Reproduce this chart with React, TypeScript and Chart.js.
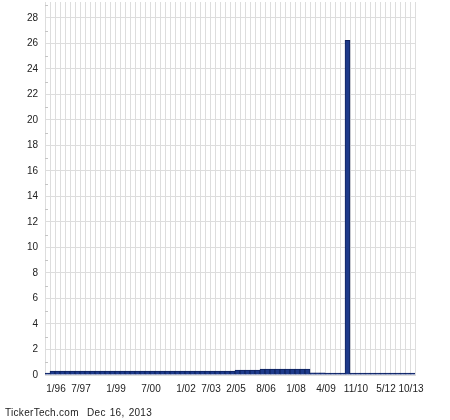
import React, { useEffect, useRef } from "react";
import { Chart, registerables } from "chart.js";

Chart.register(...registerables);

// Dividend dates (only the labelled ones are shown on the axis)
const categories: string[] = [
  "", "", "1/96", "", "", "", "", "7/97", "", "",
  "", "", "", "", "1/99", "", "", "", "", "",
  "", "7/00", "", "", "", "", "", "", "1/02", "",
  "", "", "", "7/03", "", "", "", "", "2/05", "",
  "", "", "", "", "8/06", "", "", "", "", "",
  "1/08", "", "", "", "", "", "4/09", "", "", "",
  "", "", "11/10", "", "", "", "", "", "5/12", "",
  "", "", "", "10/13",
];

// Dividend amounts per payment
const dividends: number[] = [
  0.05, 0.3, 0.3, 0.3, 0.3, 0.3, 0.3, 0.3, 0.3, 0.3,
  0.3, 0.3, 0.3, 0.3, 0.3, 0.3, 0.3, 0.3, 0.3, 0.3,
  0.3, 0.3, 0.3, 0.3, 0.3, 0.3, 0.3, 0.3, 0.3, 0.3,
  0.3, 0.3, 0.3, 0.3, 0.3, 0.3, 0.3, 0.3, 0.38, 0.38,
  0.38, 0.38, 0.38, 0.46, 0.46, 0.46, 0.46, 0.46, 0.46, 0.46,
  0.46, 0.46, 0.46, 0.17, 0.17, 0.17, 0.05, 0.05, 0.05, 0.05,
  26.25, 0.06, 0.06, 0.06, 0.06, 0.06, 0.06, 0.06, 0.06, 0.12,
  0.12, 0.12, 0.12, 0.12,
];

const yMin = 0;
const yMax = 29.25;
const yStep = 2;
const minorTickValues: number[] = [1, 3, 5, 7, 9, 11, 13, 15, 17, 19, 21, 23, 25, 27, 29];

const footerText = "TickerTech.com  Dec 16, 2013";

const GRID = "#dddddd";
const FONT = "Liberation Sans, Arial, sans-serif";

const minorTicksPlugin = {
  id: "minorTicks",
  afterDatasetsDraw(chart: any) {
    const y = chart.scales.y;
    const ctx = chart.ctx;
    const left = chart.chartArea.left;
    ctx.save();
    ctx.strokeStyle = "#c4c4c4";
    ctx.lineWidth = 1;
    for (const v of minorTickValues) {
      const py = Math.round(y.getPixelForValue(v)) + 0.5;
      ctx.beginPath();
      ctx.moveTo(left, py);
      ctx.lineTo(left + 3, py);
      ctx.stroke();
    }
    ctx.restore();
  },
};

export default function App() {
  const ref = useRef<HTMLCanvasElement | null>(null);

  useEffect(() => {
    if (!ref.current) return;
    const chart = new Chart(ref.current, {
      type: "bar",
      data: {
        labels: categories,
        datasets: [
          {
            data: dividends,
            backgroundColor: "#1e3a8a",
            borderColor: "#10235f",
            borderWidth: 1,
            barPercentage: 1,
            categoryPercentage: 1,
            minBarLength: 2,
          },
        ],
      },
      options: {
        animation: false,
        responsive: false,
        maintainAspectRatio: false,
        layout: { padding: { left: 0, right: 35, top: 2, bottom: 25 } },
        plugins: {
          legend: { display: false },
          tooltip: { enabled: false },
        },
        scales: {
          x: {
            grid: { color: GRID, lineWidth: 1, drawTicks: false, offset: true },
            border: { color: GRID },
            ticks: {
              autoSkip: false,
              maxRotation: 0,
              minRotation: 0,
              padding: 8,
              labelOffset: -1.5,
              color: "#222",
              font: { family: FONT, size: 10 },
            },
            afterFit(scale: any) {
              scale.height = 20;
              scale.paddingLeft = 0;
              scale.paddingRight = 0;
            },
          },
          y: {
            min: yMin,
            max: yMax,
            grid: { color: GRID, lineWidth: 1, drawTicks: false },
            border: { color: GRID },
            ticks: {
              stepSize: yStep,
              includeBounds: false,
              padding: 7,
              color: "#222",
              font: { family: FONT, size: 10 },
            },
            afterFit(scale: any) {
              scale.width = 45;
              scale.paddingTop = 0;
              scale.paddingBottom = 0;
            },
          },
        },
      },
      plugins: [minorTicksPlugin],
    } as any);
    return () => chart.destroy();
  }, []);

  return (
    <div style={{ position: "absolute", left: 0, top: 0, width: 450, height: 420, background: "#fff" }}>
      <canvas ref={ref} width={450} height={420} style={{ display: "block" }} />
      <div
        style={{
          position: "absolute",
          left: 5,
          top: 407,
          fontFamily: FONT,
          fontSize: 10,
          lineHeight: "12px",
          color: "#222",
          whiteSpace: "pre",
          letterSpacing: "0.3px",
          wordSpacing: "1px",
        }}
      >
        {footerText}
      </div>
    </div>
  );
}
